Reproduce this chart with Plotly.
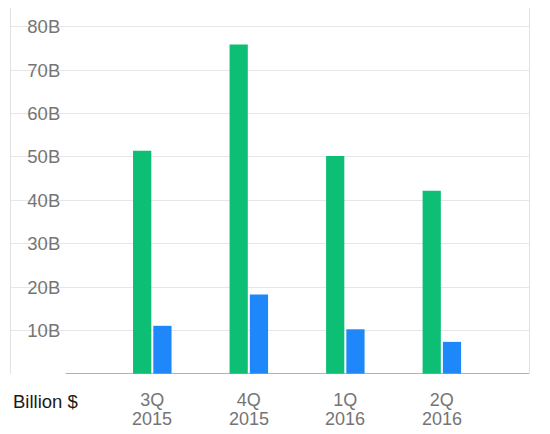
import plotly.graph_objects as go

quarters = ["3Q", "4Q", "1Q", "2Q"]
years = ["2015", "2015", "2016", "2016"]
green_values = [51.4, 75.9, 50.2, 42.2]
blue_values = [11.1, 18.3, 10.3, 7.4]
tick_vals = [10, 20, 30, 40, 50, 60, 70, 80]
tick_text = ["10B", "20B", "30B", "40B", "50B", "60B", "70B", "80B"]
unit_label = "Billion $"

xpos = list(range(len(quarters)))
FONT = "Liberation Sans, Arial, sans-serif"
GRAY = "#757575"
FS = 18.5
FSX = 18

fig = go.Figure()
fig.add_trace(go.Bar(x=xpos, y=green_values, marker=dict(color="#0CBF75", line=dict(width=0)), name="A"))
fig.add_trace(go.Bar(x=xpos, y=blue_values, marker=dict(color="#1E88FA", line=dict(width=0)), name="B"))

fig.update_layout(
    width=542, height=426,
    margin=dict(l=3, r=21, t=0, b=60),
    paper_bgcolor="white", plot_bgcolor="white",
    barmode="group", bargap=0.58, bargroupgap=0.1,
    showlegend=False,
    font=dict(family=FONT, color=GRAY, size=FS),
    xaxis=dict(
        range=[-1.464, 3.903],
        tickmode="array", tickvals=xpos, ticktext=quarters,
        showgrid=False, zeroline=False, showline=False, ticks="",
        ticklabelstandoff=13,
        tickfont=dict(size=FSX, color=GRAY, family=FONT),
        fixedrange=True,
    ),
    yaxis=dict(
        range=[0, 84.3],
        tickmode="array", tickvals=tick_vals, ticktext=tick_text,
        ticklabelposition="inside", ticklabelstandoff=17,
        showgrid=True, gridcolor="#E6E6E6", gridwidth=1,
        zeroline=False, showline=True, mirror=True, linecolor="#E2E2E2", linewidth=1,
        ticks="", tickfont=dict(size=FS, color=GRAY, family=FONT),
        fixedrange=True,
    ),
)

# baseline
fig.add_shape(type="line", xref="x", yref="y", x0=-0.90, x1=3.903, y0=0, y1=0,
              line=dict(color="#9A9A9A", width=1.5))

for xi, yr in zip(xpos, years):
    fig.add_annotation(text=yr, xref="x", yref="paper", x=xi, y=0,
                       xanchor="center", yanchor="middle", yshift=-45, showarrow=False,
                       font=dict(size=FSX, color=GRAY, family=FONT))

fig.add_annotation(text=unit_label, xref="paper", yref="paper", x=0, y=0,
                   xanchor="left", yanchor="middle", xshift=0, yshift=-27, showarrow=False,
                   font=dict(size=FS, color="#1A1A1A", family=FONT))

fig.write_html("out.html")
